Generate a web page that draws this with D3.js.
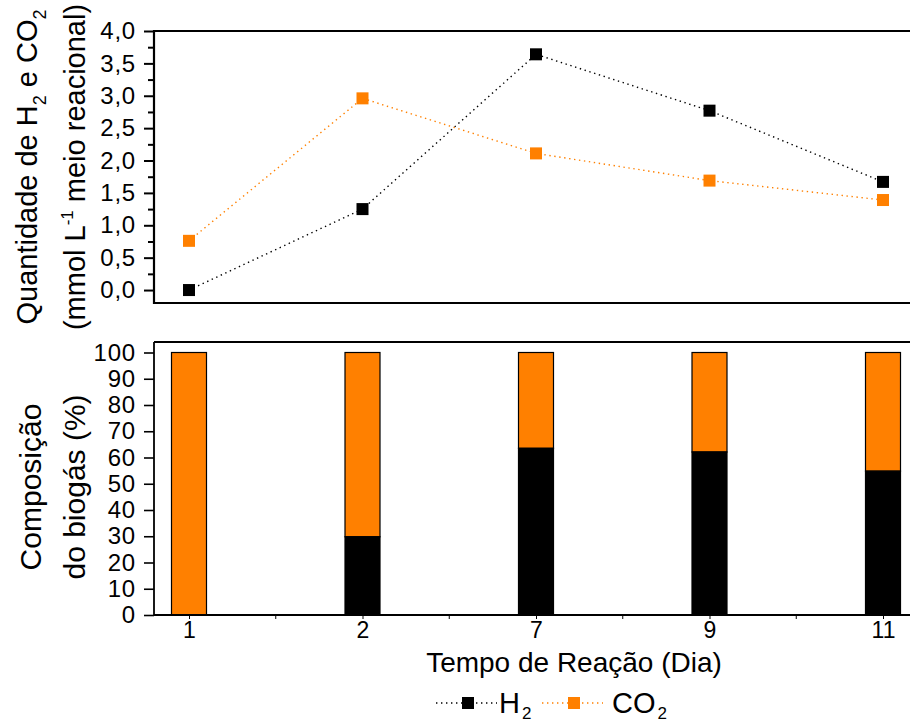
<!DOCTYPE html>
<html>
<head>
<meta charset="utf-8">
<script src="https://cdn.jsdelivr.net/npm/d3@7/dist/d3.min.js"></script>
<style>
  html, body { margin: 0; padding: 0; background: #fff; }
  svg { display: block; font-family: "Liberation Sans", Arial, sans-serif; }
</style>
</head>
<body>
<svg id="chart" width="910" height="724"></svg>
<script>
// ---- data ----
const days = ["1", "2", "7", "9", "11"];
const h2Amount = [0.0, 1.25, 3.64, 2.77, 1.67];
const co2Amount = [0.76, 2.96, 2.11, 1.69, 1.39];
const h2Percent = [0, 29.8, 63.5, 62.1, 54.8];
const topTicks = [0, 0.5, 1.0, 1.5, 2.0, 2.5, 3.0, 3.5, 4.0];
const topMinorTicks = [0.25, 0.75, 1.25, 1.75, 2.25, 2.75, 3.25, 3.75];
const bottomTicks = [0, 10, 20, 30, 40, 50, 60, 70, 80, 90, 100];

const ORANGE = "#ff8000";
const BLACK = "#000000";

const svg = d3.select("#chart");
const left = 154, right = 918;

// x scale shared
const x = d3.scalePoint().domain(days).range([189, 883]);

// ---- top panel ----
const yTop = d3.scaleLinear().domain([-0.2, 4.0]).range([303, 31]);
const topG = svg.append("g");

const fmtComma = d => d3.format(".1f")(d).replace(".", ",");

topG.append("g")
  .attr("transform", `translate(${left},0)`)
  .call(d3.axisLeft(yTop).tickValues(topTicks).tickSize(10).tickPadding(8).tickFormat(fmtComma))
  .call(g => g.select(".domain").remove())
  .call(g => g.selectAll("line").attr("stroke-width", 2))
  .call(g => g.selectAll("text").attr("font-size", 24).attr("letter-spacing", "0.8px").attr("fill", "#000"));
topG.append("g")
  .attr("transform", `translate(${left},0)`)
  .call(d3.axisLeft(yTop).tickValues(topMinorTicks).tickSize(6).tickFormat(""))
  .call(g => g.select(".domain").remove())
  .call(g => g.selectAll("line").attr("stroke-width", 2));

// frame: left, top, bottom
topG.append("line").attr("x1", left).attr("x2", left).attr("y1", yTop(4.0) - 1).attr("y2", yTop(-0.2) + 1)
  .attr("stroke", "#000").attr("stroke-width", 2.2);
topG.append("line").attr("x1", left).attr("x2", right).attr("y1", yTop(4.0)).attr("y2", yTop(4.0))
  .attr("stroke", "#000").attr("stroke-width", 2.2);
topG.append("line").attr("x1", left).attr("x2", right).attr("y1", yTop(-0.2)).attr("y2", yTop(-0.2))
  .attr("stroke", "#000").attr("stroke-width", 2.2);

const series = [
  { name: "CO2", values: co2Amount, color: ORANGE },
  { name: "H2", values: h2Amount, color: BLACK }
];
const line = d3.line().x((d, i) => x(days[i])).y(d => yTop(d));
series.forEach(s => {
  topG.append("path")
    .attr("d", line(s.values))
    .attr("fill", "none")
    .attr("stroke", s.color)
    .attr("stroke-width", 1.4)
    .attr("stroke-dasharray", "1.4 3.6");
  topG.selectAll(null).data(s.values).enter().append("rect")
    .attr("x", (d, i) => x(days[i]) - 6)
    .attr("y", d => yTop(d) - 6)
    .attr("width", 12).attr("height", 12)
    .attr("fill", s.color);
});

// top y label
const tl = svg.append("text")
  .attr("transform", "translate(37,167) rotate(-90)")
  .attr("text-anchor", "middle").attr("font-size", 29).attr("fill", "#000");
tl.append("tspan").text("Quantidade de H");
tl.append("tspan").text("2").attr("font-size", 18).attr("dy", 9);
tl.append("tspan").text(" e CO").attr("dy", -9);
tl.append("tspan").text("2").attr("font-size", 18).attr("dy", 9);

const tl2 = svg.append("text")
  .attr("transform", "translate(85,167) rotate(-90)")
  .attr("text-anchor", "middle").attr("font-size", 29).attr("fill", "#000");
tl2.append("tspan").text("(mmol L");
tl2.append("tspan").text("-1").attr("font-size", 17).attr("dy", -12);
tl2.append("tspan").text(" meio reacional)").attr("dy", 12);

// ---- bottom panel ----
const yBot = d3.scaleLinear().domain([0, 104]).range([615, 342]);
const bot = svg.append("g");

bot.append("g")
  .attr("transform", `translate(${left},0)`)
  .call(d3.axisLeft(yBot).tickValues(bottomTicks).tickSize(10).tickPadding(8).tickFormat(d3.format("d")))
  .call(g => g.select(".domain").remove())
  .call(g => g.selectAll("line").attr("stroke-width", 1.6))
  .call(g => g.selectAll("text").attr("font-size", 24).attr("letter-spacing", "0.8px").attr("fill", "#000"));

const barW = 35;
// CO2 part (orange, from h2 to 100)
bot.selectAll(".co2").data(h2Percent).enter().append("rect")
  .attr("x", (d, i) => x(days[i]) - barW / 2)
  .attr("y", yBot(100))
  .attr("width", barW)
  .attr("height", d => yBot(d) - yBot(100))
  .attr("fill", ORANGE).attr("stroke", "#000").attr("stroke-width", 1.2);
// H2 part (black)
bot.selectAll(".h2").data(h2Percent).enter().append("rect")
  .attr("x", (d, i) => x(days[i]) - barW / 2)
  .attr("y", d => yBot(d))
  .attr("width", barW)
  .attr("height", d => yBot(0) - yBot(d))
  .attr("fill", BLACK).attr("stroke", "#000").attr("stroke-width", 1.2);

// frame
bot.append("line").attr("x1", left).attr("x2", left).attr("y1", yBot(104)).attr("y2", yBot(0))
  .attr("stroke", "#000").attr("stroke-width", 1.8);
bot.append("line").attr("x1", left).attr("x2", right).attr("y1", yBot(104)).attr("y2", yBot(104))
  .attr("stroke", "#000").attr("stroke-width", 1.8);

// bottom x axis
bot.append("g")
  .attr("transform", `translate(0,${yBot(0)})`)
  .call(d3.axisBottom(x).tickSize(4).tickPadding(3))
  .call(g => g.select(".domain").remove())
  .call(g => g.selectAll("text").attr("font-size", 23).attr("fill", "#000"));
const mids = days.slice(1).map((d, i) => (x(days[i]) + x(d)) / 2);
bot.selectAll(".minor").data(mids).enter().append("line")
  .attr("x1", d => d).attr("x2", d => d).attr("y1", yBot(0)).attr("y2", yBot(0) + 4)
  .attr("stroke", "#000").attr("stroke-width", 1);
bot.append("line").attr("x1", left).attr("x2", right).attr("y1", yBot(0)).attr("y2", yBot(0))
  .attr("stroke", "#000").attr("stroke-width", 1.8);

// bottom y label
svg.append("text").attr("transform", "translate(41,487) rotate(-90)")
  .attr("text-anchor", "middle").attr("font-size", 30).attr("fill", "#000").text("Composição");
svg.append("text").attr("transform", "translate(85,487) rotate(-90)")
  .attr("text-anchor", "middle").attr("font-size", 30).attr("fill", "#000").text("do biogás (%)");

// x title
svg.append("text").attr("x", 574).attr("y", 672)
  .attr("text-anchor", "middle").attr("font-size", 28).attr("fill", "#000").text("Tempo de Reação (Dia)");

// ---- legend ----
const legendItems = [
  { label: "H", color: BLACK, x0: 436, tx: 499 },
  { label: "CO", color: ORANGE, x0: 542, tx: 612 }
];
const ly = 703;
legendItems.forEach(it => {
  svg.append("line").attr("x1", it.x0).attr("x2", it.x0 + 61).attr("y1", ly).attr("y2", ly)
    .attr("stroke", it.color).attr("stroke-width", 1.4).attr("stroke-dasharray", "1.4 3.6");
  svg.append("rect").attr("x", it.x0 + 26).attr("y", ly - 6).attr("width", 12).attr("height", 12)
    .attr("fill", it.color);
  const t = svg.append("text").attr("x", it.tx).attr("y", 713).attr("font-size", 29).attr("fill", "#000");
  t.append("tspan").text(it.label);
  t.append("tspan").text("2").attr("font-size", 17).attr("dy", 6).attr("dx", 2);
});
</script>
</body>
</html>
